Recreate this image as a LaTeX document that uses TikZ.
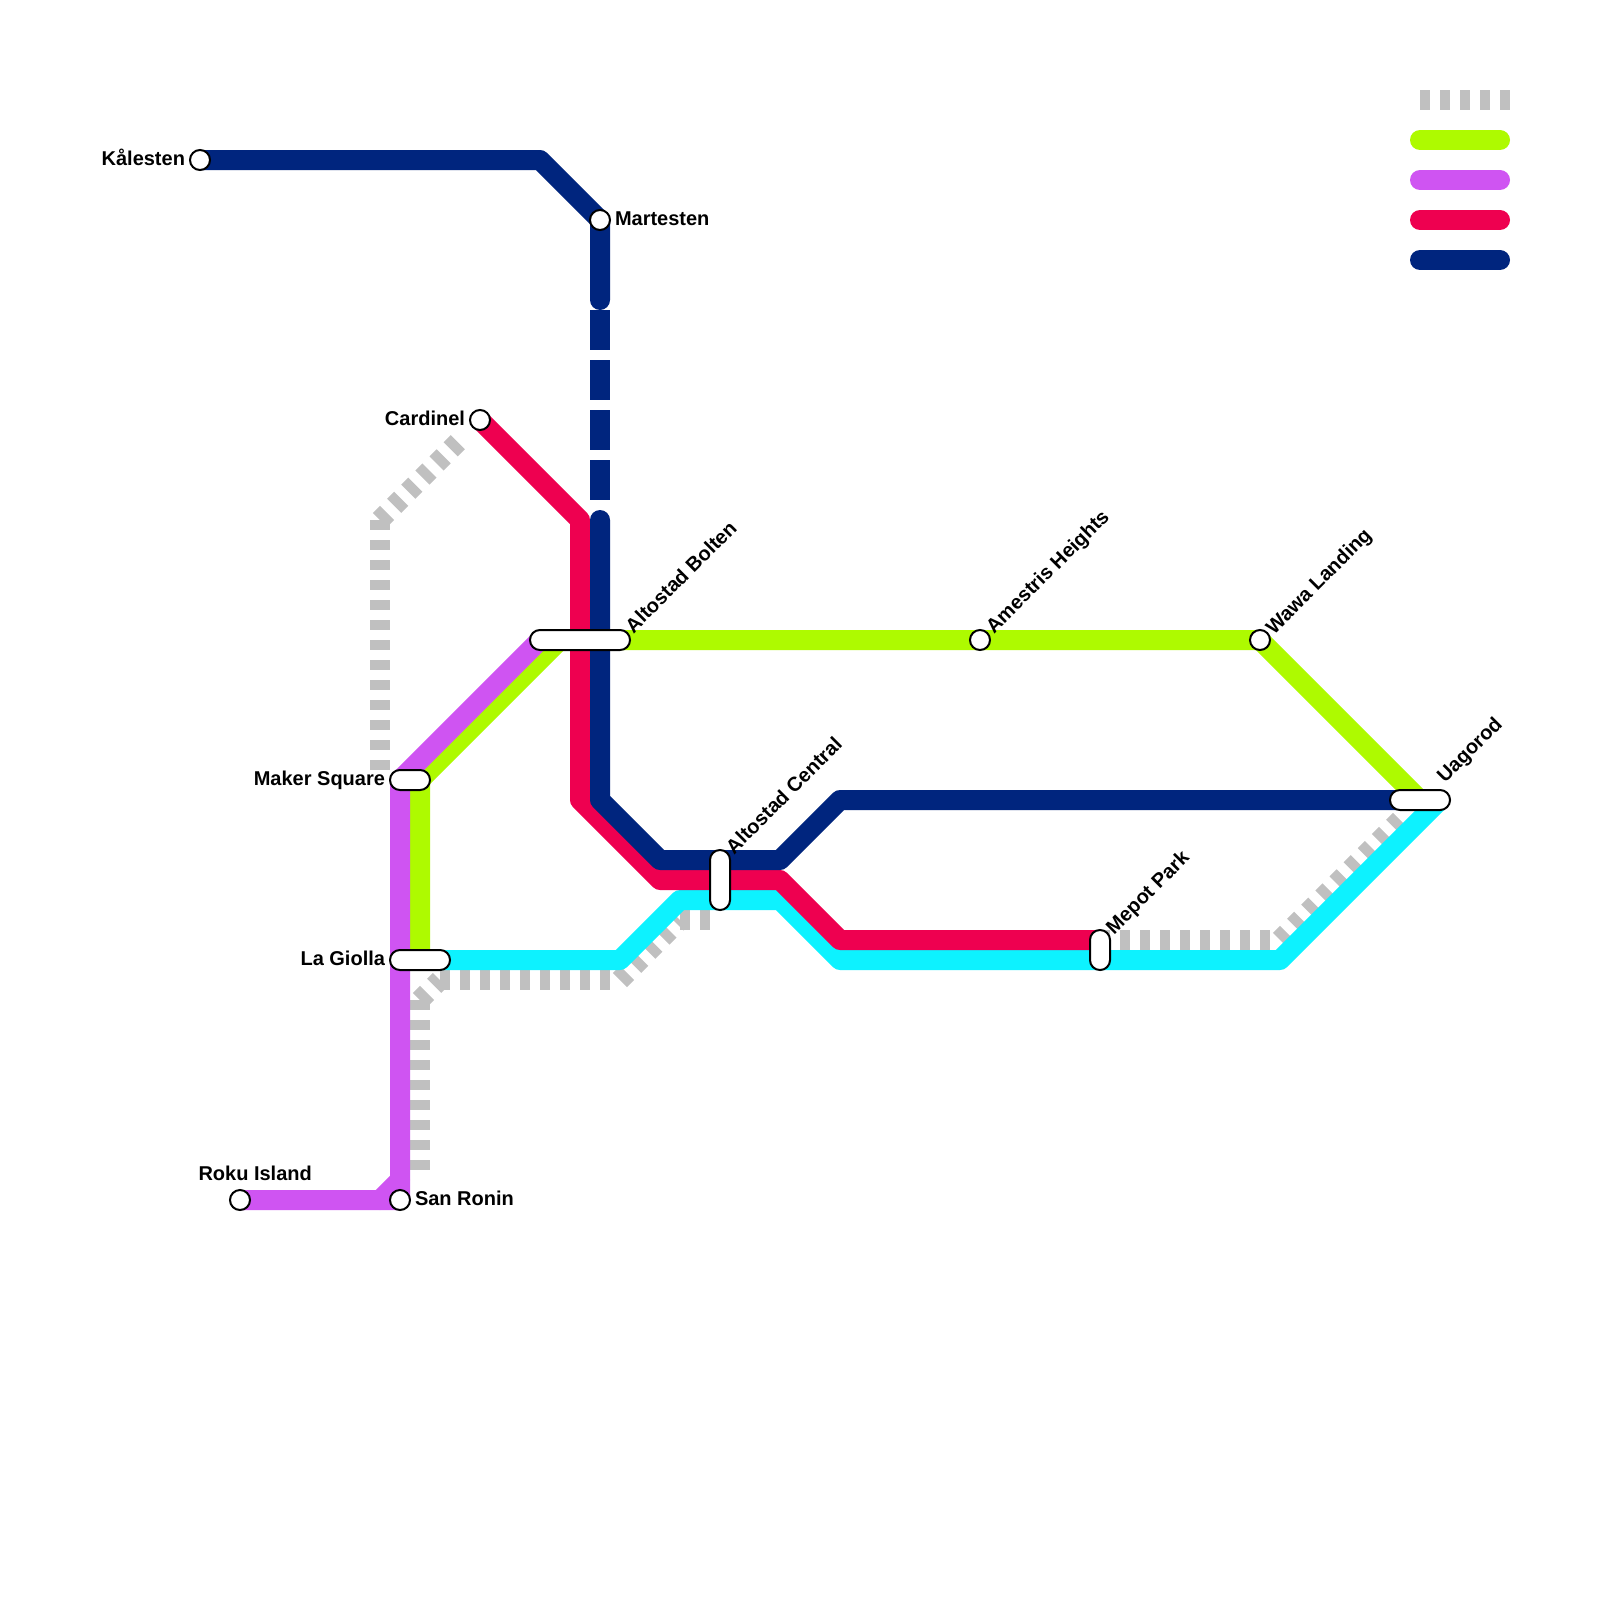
\documentclass[tikz,border=0pt]{standalone}
\usepackage{fontspec}
\setmainfont{Liberation Sans}
\pgfdeclarelayer{lines}
\pgfsetlayers{lines,main}
\definecolor{cnavy}{HTML}{00257E}
\definecolor{cred}{HTML}{EE0050}
\definecolor{cgreen}{HTML}{AEFA00}
\definecolor{cpurple}{HTML}{CF54F2}
\definecolor{ccyan}{HTML}{0DF2FF}
\definecolor{cgrey}{HTML}{C0C0C0}
\tikzset{
  x=1pt,y=-1pt,
  metro/.style={line width=20pt,line cap=round,line join=round},
  greyline/.style={line width=20pt,draw=cgrey,dash pattern=on 10pt off 10pt,line cap=butt},
  navydash/.style={line width=20pt,draw=cnavy,dash pattern=on 40pt off 10pt,line cap=butt},
  stop/.style={circle,draw=black,fill=white,line width=2pt,minimum size=20pt,inner sep=0pt,outer sep=0pt},
  pill/.style 2 args={rectangle,draw=black,fill=white,line width=2pt,rounded corners=9.9pt,minimum width=#1pt,minimum height=#2pt,inner sep=0pt,outer sep=0pt},
  lab/.style={inner sep=0pt,outer sep=0pt,font=\fontsize{20}{24}\selectfont\bfseries,text=black},
  labr/.style={lab,anchor=base west},
  labl/.style={lab,anchor=base east},
  labd/.style={lab,anchor=base west,rotate=45},
}
\begin{document}
\begin{tikzpicture}
\useasboundingbox (0,0) rectangle (1600,1600);
% stations
\node[stop] (kal) at (200,160) {};
\node[stop] (mar) at (600,220) {};
\node[stop] (car) at (480,420) {};
\node[stop] (ame) at (980,640) {};
\node[stop] (waw) at (1260,640) {};
\node[stop] (rok) at (240,1200) {};
\node[stop] (san) at (400,1200) {};
\node[pill={100}{20}] (bol) at (580,640) {};
\node[pill={40}{20}] (mak) at (410,780) {};
\node[pill={60}{20}] (gio) at (420,960) {};
\node[pill={20}{60}] (cen) at (720,880) {};
\node[pill={20}{40}] (mep) at (1100,950) {};
\node[pill={60}{20}] (uag) at (1420,800) {};
% labels
\node[labl] (lkal) at (185,165.5) {Kålesten};
\node[labr] (lmar) at (615,225.5) {Martesten};
\node[labl] (lcar) at (465,425.5) {Cardinel};
\node[labl] (lmak) at (385,785.5) {Maker Square};
\node[labl] (lgio) at (385,965.5) {La Giolla};
\node[labr] (lsan) at (415,1205.5) {San Ronin};
\node[labr] (lrok) at (198.5,1180.5) {Roku Island};
\node[labd] (lbol) at (633.5,634) {Altostad Bolten};
\node[labd] (lame) at (994,634.5) {Amestris Heights};
\node[labd] (lwaw) at (1274,635) {Wawa Landing};
\node[labd] (lcen) at (734,855) {Altostad Central};
\node[labd] (lmep) at (1114,935) {Mepot Park};
\node[labd] (luag) at (1445,783.5) {Uagorod};
% waypoints
\coordinate (n1) at (540,160);
\coordinate (n2) at (600,300);
\coordinate (n3) at (600,310);
\coordinate (n4) at (600,500);
\coordinate (n5) at (600,520);
\coordinate (n6) at (600,800);
\coordinate (n7) at (660,860);
\coordinate (n8) at (780,860);
\coordinate (n9) at (840,800);
\coordinate (r1) at (580,520);
\coordinate (r2) at (580,800);
\coordinate (r3) at (660,880);
\coordinate (r4) at (780,880);
\coordinate (r5) at (840,940);
\coordinate (r6) at (1100,940);
\coordinate (c1) at (620,960);
\coordinate (c2) at (680,900);
\coordinate (c3) at (780,900);
\coordinate (c4) at (840,960);
\coordinate (c5) at (1280,960);
\coordinate (c6) at (1440,800);
\coordinate (g1) at (420,780);
\coordinate (g2) at (560,640);
\coordinate (p1) at (380,1200);
\coordinate (p2) at (400,1180);
\coordinate (p3) at (400,780);
\coordinate (p4) at (540,640);
\coordinate (x1) at (380,520);
\coordinate (x2) at (460,440);
\coordinate (x3) at (380,770);
\coordinate (y1) at (420,1000);
\coordinate (y2) at (420,1170);
\coordinate (y3) at (440,980);
\coordinate (y4) at (620,980);
\coordinate (y5) at (680,920);
\coordinate (y6) at (710,920);
\coordinate (z1) at (1100,940);
\coordinate (z2) at (1280,940);
\coordinate (z3) at (1400,820);
\coordinate (k0a) at (1420,100);
\coordinate (k0b) at (1510,100);
\coordinate (k1a) at (1420,140);
\coordinate (k1b) at (1500,140);
\coordinate (k2a) at (1420,180);
\coordinate (k2b) at (1500,180);
\coordinate (k3a) at (1420,220);
\coordinate (k3b) at (1500,220);
\coordinate (k4a) at (1420,260);
\coordinate (k4b) at (1500,260);
\begin{pgfonlayer}{lines}
\fill[white] (0,0) rectangle (1600,1600);
% grey dashed line
\draw[greyline] (x1) -- (x2);
\draw[greyline] (x1) -- (x3);
\draw[greyline] (y1) -- (y2);
\draw[greyline] (y1) -- (y3);
\draw[greyline] (y3) -- (y4);
\draw[greyline] (y4) -- (y5);
\draw[greyline] (y5) -- (y6);
\draw[greyline] (z1) -- (z2);
\draw[greyline] (z2) -- (z3);
% cyan
\draw[metro,ccyan] (gio.center) -- (c1) -- (c2) -- (c3) -- (c4) -- (c5) -- (c6);
% green
\draw[metro,cgreen] (gio.center) -- (g1) -- (g2) -- (ame.center) -- (waw.center) -- (uag.center);
% purple
\draw[metro,cpurple] (rok.center) -- (san.center) -- (p3) -- (p4);
\draw[metro,cpurple] (p1) -- (p2);
% red
\draw[metro,cred] (car.center) -- (r1) -- (r2) -- (r3) -- (r4) -- (r5) -- (r6);
% navy
\draw[metro,cnavy] (kal.center) -- (n1) -- (mar.center) -- (n2);
\draw[navydash] (n3) -- (n4);
\draw[metro,cnavy] (n5) -- (n6) -- (n7) -- (n8) -- (n9) -- (uag.center);
% legend
\draw[greyline] (k0a) -- (k0b);
\draw[metro,cgreen] (k1a) -- (k1b);
\draw[metro,cpurple] (k2a) -- (k2b);
\draw[metro,cred] (k3a) -- (k3b);
\draw[metro,cnavy] (k4a) -- (k4b);
\end{pgfonlayer}
\end{tikzpicture}
\end{document}
